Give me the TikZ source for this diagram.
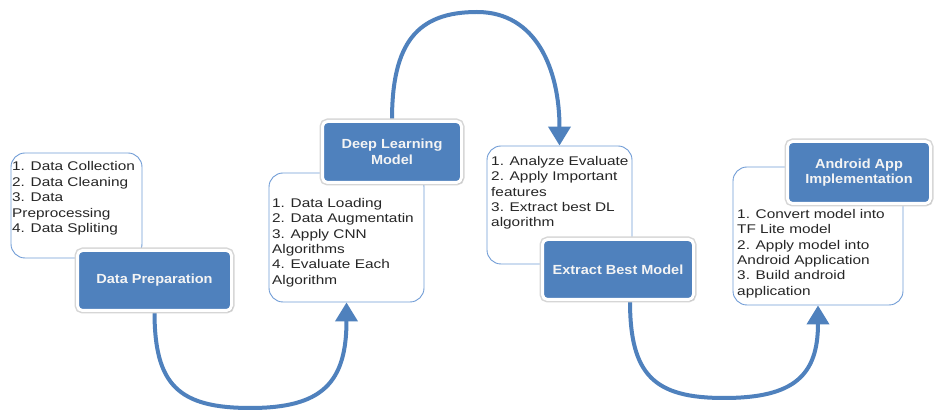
\documentclass[tikz,border=0pt]{standalone}
\usepackage{fontspec}
\setmainfont{Liberation Sans}
\newfontfamily\listfont[FakeStretch=1.22]{Liberation Sans}
\newfontfamily\headfont[FakeStretch=1.1]{Liberation Sans}
\usetikzlibrary{arrows.meta,shadows,calc}
\pgfdeclarelayer{background}
\pgfsetlayers{background,main}
\definecolor{boxblue}{RGB}{79,129,189}
\definecolor{linkblue}{RGB}{79,129,189}
\definecolor{edgeblue}{RGB}{112,156,214}
\definecolor{listtext}{RGB}{38,38,38}
\definecolor{headtext}{RGB}{244,244,244}
\tikzset{
  stagebox/.style={rounded corners=5pt, fill=boxblue, draw=white, line width=3pt,
    preaction={draw=black!16, line width=6pt},
    drop shadow={shadow xshift=1.5pt, shadow yshift=-1.5pt, fill=black!35, opacity=0.6},
    text=headtext, font=\headfont\bfseries\fontsize{13.2}{15.5}\selectfont,
    align=center, inner sep=0pt},
  notebox/.style={draw=edgeblue, line width=0.9pt, rounded corners=14pt, fill=white, inner sep=0pt},
  notetext/.style={anchor=north west, align=left, inner sep=0pt, text=listtext,
    font=\listfont\fontsize{12.6}{15.4}\selectfont},
  flow/.style={draw=linkblue, line width=4pt, -{Triangle[width=22pt,length=19pt]}}
}
\begin{document}
\begin{tikzpicture}[x=1pt,y=-1pt]
\useasboundingbox (0,0) rectangle (935,411);
% note boxes
\node[notebox, minimum width=131pt, minimum height=105pt] (tb1) at (76.5,205.5) {};
\node[notebox, minimum width=155pt, minimum height=129pt] (tb2) at (346.5,237.5) {};
\node[notebox, minimum width=145pt, minimum height=118pt] (tb3) at (559.5,205) {};
\node[notebox, minimum width=170pt, minimum height=138pt] (tb4) at (818,236) {};
% texts
\node[notetext] (tx1) at (12,161.5) {1. Data Collection\\2. Data Cleaning\\3. Data\\Preprocessing\\4. Data Spliting};
\node[notetext] (tx2) at (272,198) {1. Data Loading\\2. Data Augmentatin\\3. Apply CNN\\Algorithms\\4. Evaluate Each\\Algorithm};
\node[notetext] (tx3) at (491,156) {1. Analyze Evaluate\\2. Apply Important\\features\\3. Extract best DL\\algorithm};
\node[notetext] (tx4) at (737,209) {1. Convert model into\\TF Lite model\\2. Apply model into\\Android Application\\3. Build android\\application};
% stage boxes
\node[stagebox, minimum width=154pt, minimum height=60pt] (dp) at (154.5,280.5) {Data Preparation};
\node[stagebox, minimum width=139pt, minimum height=61pt] (dl) at (392,152) {Deep Learning\\Model};
\node[stagebox, minimum width=151pt, minimum height=60pt] (eb) at (618,269.5) {Extract Best Model};
\node[stagebox, minimum width=143pt, minimum height=62pt] (aa) at (859,172.5) {Android App\\Implementation};
% bend points
\coordinate (c1) at (250.5,408);
\coordinate (c2) at (477,12);
\coordinate (c3) at (724,398);
\begin{pgfonlayer}{background}
\fill[white] (0,0) rectangle (935,411);
\draw[flow] (dp.south) .. controls +(0,73) and +(-72,0) .. (c1)
  .. controls +(72,0) and +(0,80) .. (tb2.south);
\draw[flow] (dl.north) .. controls +(0,-77) and +(-60,0) .. (c2)
  .. controls +(60,0) and +(0,-75) .. (tb3.north);
\draw[flow] ($(eb.south)+(12,0)$) .. controls +(0,74) and +(-70,0) .. (c3)
  .. controls +(70,0) and +(0,70) .. (tb4.south);
\end{pgfonlayer}
\end{tikzpicture}
\end{document}
